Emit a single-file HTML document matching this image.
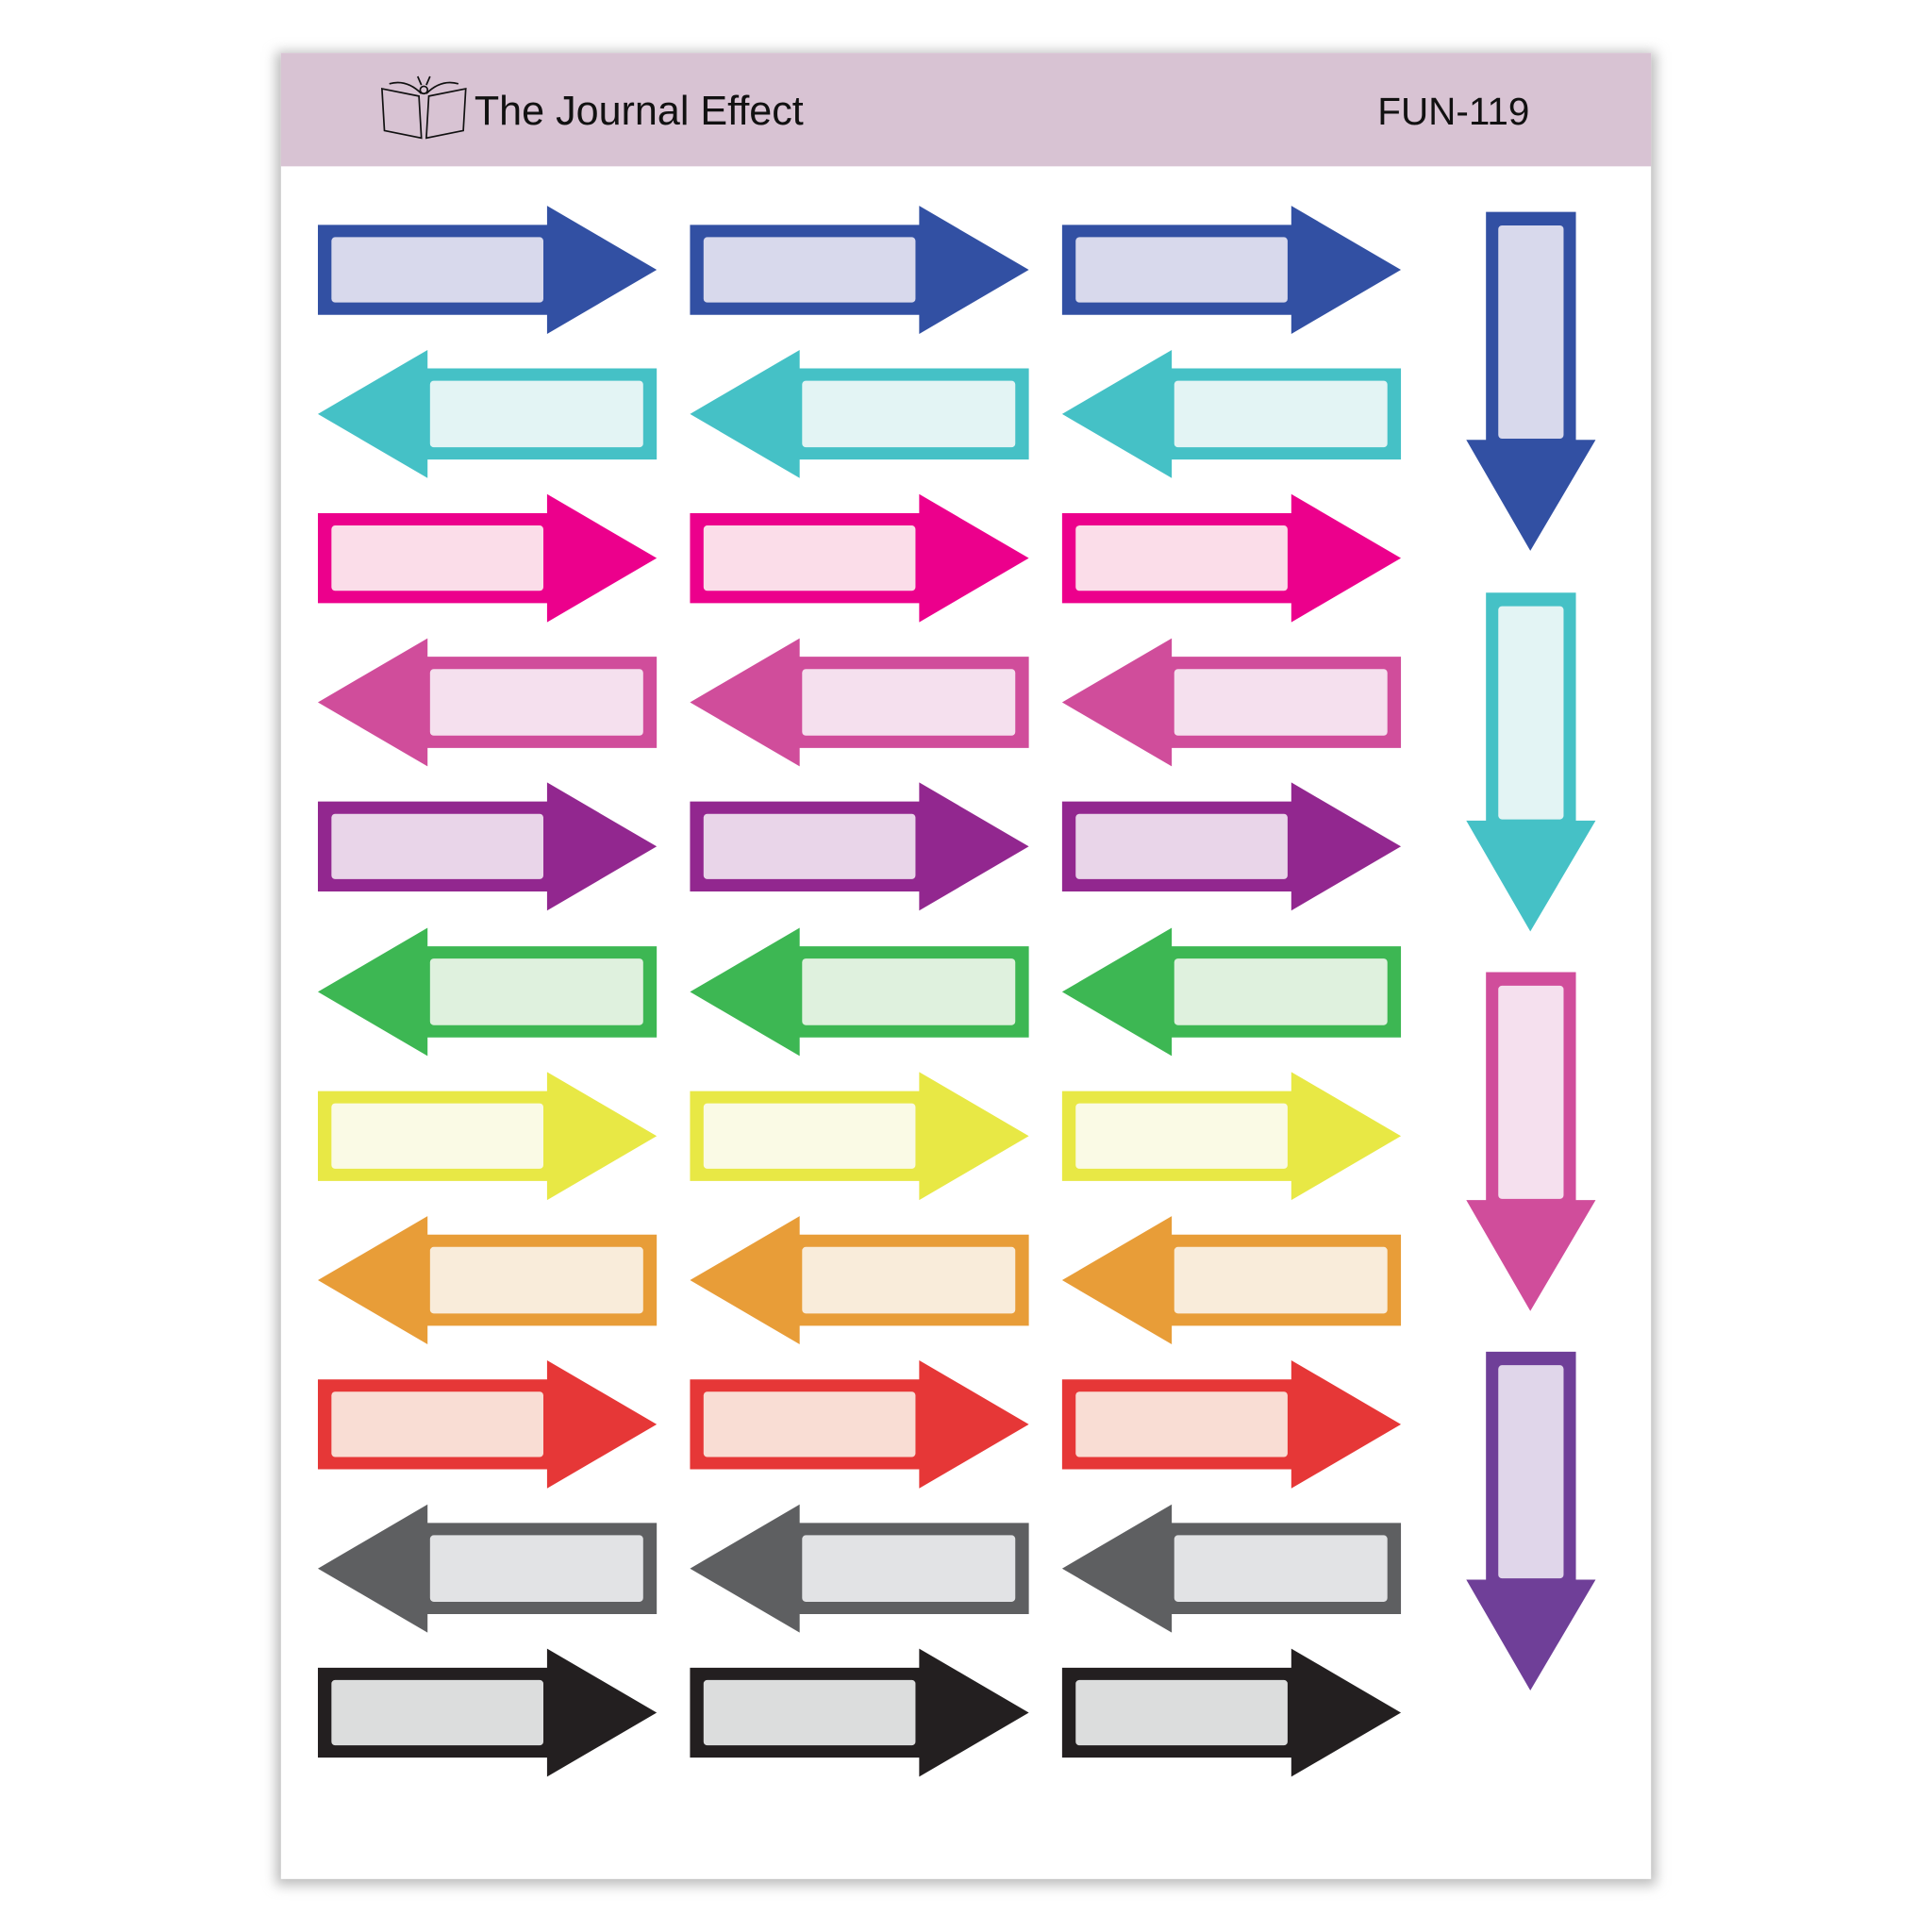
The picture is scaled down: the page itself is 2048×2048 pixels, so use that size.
<!DOCTYPE html>
<html><head><meta charset="utf-8"><style>
html,body{margin:0;padding:0;background:#fff;width:2048px;height:2048px;overflow:hidden}
svg{display:block}
</style></head><body>
<svg width="2048" height="2048" viewBox="0 0 1568 1568" xmlns="http://www.w3.org/2000/svg" xmlns:xlink="http://www.w3.org/1999/xlink">
<defs>
<filter id="sh" x="-5%" y="-5%" width="110%" height="110%"><feGaussianBlur stdDeviation="5"/></filter>
<g id="R"><path d="M0,-36.5H186V-52L275,0L186,52V36.5H0Z"/><rect x="11" y="-26.5" width="172" height="53" rx="3" fill="currentColor"/></g>
<g id="L"><path d="M275,-37H89V-52L0,0L89,52V37H275Z"/><rect x="91" y="-27" width="173" height="54" rx="3" fill="currentColor"/></g>
<g id="D"><path d="M-36,0H37V185H53L0,275L-52,185H-36Z"/><rect x="-26" y="11" width="53" height="173" rx="3" fill="currentColor"/></g>
<g id="R3"><use xlink:href="#R" x="258"/><use xlink:href="#R" x="560"/><use xlink:href="#R" x="862"/></g>
<g id="L3"><use xlink:href="#L" x="258"/><use xlink:href="#L" x="560"/><use xlink:href="#L" x="862"/></g>
</defs>
<rect x="224" y="42" width="1120" height="1488" fill="#bbb" filter="url(#sh)"/>
<rect x="228" y="43" width="1112" height="1482" fill="#fff"/>
<rect x="228" y="43" width="1112" height="92" fill="#d8c3d3"/>
<g fill="none" stroke="#111" stroke-width="1.3">
<path d="M310,72 L340,78 L342,112 L312,106 Z"/>
<path d="M378,72 L348,78 L346,112 L376,106 Z"/>
<path d="M316,68 Q330,64 342,76 M372,68 Q358,64 346,76"/>
<circle cx="344" cy="73" r="3"/><path d="M342,69 L339,62 M346,69 L349,62"/>
</g>
<text x="385" y="101" font-family="Liberation Sans, sans-serif" font-size="33" fill="#111">The Journal Effect</text>
<text x="1118" y="101" font-family="Liberation Sans, sans-serif" font-size="31" fill="#111">FUN-119</text>

<use xlink:href="#R3" y="219" fill="#3250a3" color="#d8d9ec"/>
<use xlink:href="#L3" y="336" fill="#45c1c6" color="#e3f4f4"/>
<use xlink:href="#R3" y="453" fill="#ec008c" color="#fbdde9"/>
<use xlink:href="#L3" y="570" fill="#d04d9b" color="#f5e0ee"/>
<use xlink:href="#R3" y="687" fill="#92278f" color="#e9d5e9"/>
<use xlink:href="#L3" y="805" fill="#3db753" color="#dff1de"/>
<use xlink:href="#R3" y="922" fill="#e8e845" color="#fafae5"/>
<use xlink:href="#L3" y="1039" fill="#e89d38" color="#f9ecda"/>
<use xlink:href="#R3" y="1156" fill="#e63737" color="#f9ddd4"/>
<use xlink:href="#L3" y="1273" fill="#5e5f61" color="#e2e3e5"/>
<use xlink:href="#R3" y="1390" fill="#231f20" color="#dcdddd"/>

<use xlink:href="#D" x="1242" y="172" fill="#3250a3" color="#d8d9ec"/>
<use xlink:href="#D" x="1242" y="481" fill="#45c1c6" color="#e3f4f4"/>
<use xlink:href="#D" x="1242" y="789" fill="#d04d9b" color="#f5e0ee"/>
<use xlink:href="#D" x="1242" y="1097" fill="#6f3f98" color="#e0d6ea"/>
</svg>
</body></html>
